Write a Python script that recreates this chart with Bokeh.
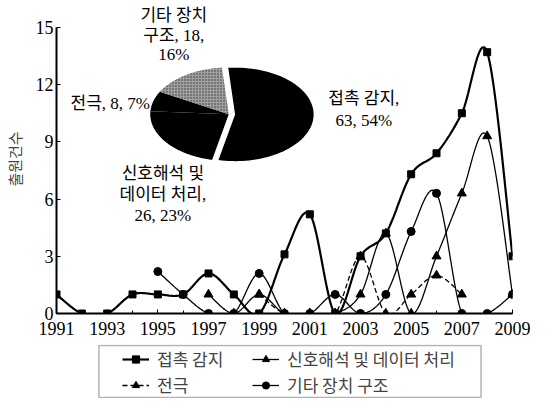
import numpy as np
from bokeh.plotting import figure
from bokeh.layouts import column
from bokeh.models import Range1d, Legend, LegendItem, FixedTicker, Label, BoxAnnotation
from bokeh.embed import file_html
from bokeh.resources import INLINE

# ---------------- data ----------------
years = list(range(1991, 2010))
x_tick_years = list(range(1991, 2010, 2))
y_ticks = [0, 3, 6, 9, 12, 15]

contact_name = "접촉 감지"
contact_years = years
contact = [1, 0, 0, 1, 1, 1, 2.1, 1, 0, 3.1, 5.2, 0, 3, 4.2, 7.3, 8.4, 10.5, 13.7, 3]

signal_name = "신호해석 및 데이터 처리"
signal_years = list(range(1997, 2010))
signal = [1, 0, 1, 0, 0, 0, 1, 4.2, 0, 3, 6.3, 9.3, 1]

electrode_name = "전극"
electrode_years = list(range(1999, 2008))
electrode = [1, 0, 0, 0, 3, 0, 1, 2, 1]

other_name = "기타 장치 구조"
other_years = list(range(1995, 2010))
other = [2.2, 1, 0, 0, 2.1, 0, 0, 1, 0, 1, 4.3, 6.3, 0, 0, 1]

pie_names = [contact_name, signal_name, electrode_name, other_name]
pie_counts = [63, 26, 8, 18]
pie_pcts = [54, 23, 7, 16]

y_axis_title = "출원건수"

# ---------------- helpers ----------------
def smooth(xs, ys, n=20):
    """Excel-like smoothed line (Catmull-Rom as cubic Bezier)."""
    xs = np.asarray(xs, float)
    ys = np.asarray(ys, float)
    px = np.concatenate([[xs[0]], xs, [xs[-1]]])
    py = np.concatenate([[ys[0]], ys, [ys[-1]]])
    ox, oy = [xs[0]], [ys[0]]
    t = np.linspace(0, 1, n + 1)[1:]
    for i in range(1, len(px) - 2):
        x0, x1, x2, x3 = px[i - 1:i + 3]
        y0, y1, y2, y3 = py[i - 1:i + 3]
        c1x, c1y = x1 + (x2 - x0) / 6, y1 + (y2 - y0) / 6
        c2x, c2y = x2 - (x3 - x1) / 6, y2 - (y3 - y1) / 6
        b0 = (1 - t) ** 3
        b1 = 3 * (1 - t) ** 2 * t
        b2 = 3 * (1 - t) * t ** 2
        b3 = t ** 3
        ox.extend(b0 * x1 + b1 * c1x + b2 * c2x + b3 * x2)
        oy.extend(b0 * y1 + b1 * c1y + b2 * c2y + b3 * y2)
    return ox, oy

SERIF = "Liberation Serif, Noto Sans CJK KR"
KR = "Noto Sans CJK KR"

p = figure(width=534, height=344, x_range=Range1d(1991, 2009), y_range=Range1d(0, 16.2),
           output_backend="svg", toolbar_location=None,
           min_border_left=49, min_border_right=22, min_border_top=4, min_border_bottom=31)
p.outline_line_color = None
p.grid.visible = False
p.background_fill_color = "white"
p.border_fill_color = "white"

# axes
p.xaxis.ticker = FixedTicker(ticks=x_tick_years, minor_ticks=years)
p.yaxis.ticker = FixedTicker(ticks=y_ticks, minor_ticks=[])
p.yaxis.bounds = (0, 15)
for ax in (p.xaxis, p.yaxis):
    ax.axis_line_width = 2
    ax.axis_line_color = "black"
    ax.major_tick_in = 4
    ax.major_tick_out = 0
    ax.minor_tick_in = 3
    ax.minor_tick_out = 0
    ax.major_tick_line_color = "black"
    ax.minor_tick_line_color = "black"
    ax.major_label_text_font = SERIF
    ax.major_label_text_font_size = "18px"
    ax.major_label_text_color = "black"
    ax.major_label_standoff = 3
p.xaxis.major_label_standoff = 8
p.yaxis.axis_label = y_axis_title
p.yaxis.axis_label_text_font = KR
p.yaxis.axis_label_text_font_size = "15px"
p.yaxis.axis_label_text_font_style = "normal"
p.yaxis.axis_label_standoff = 8

# ---------------- pie (inset, drawn in the chart's data space) ----------------
pie_cx, pie_cy = 1997.8, 10.45
pie_rx, pie_ry = 3.1, 2.45
pie_start_deg = 95
explode = [0.25, 0, 0, 0]
pie_fill = ["black", "black", "black", "#a0a0a0"]
total = float(sum(pie_counts))
a = np.deg2rad(pie_start_deg)
for i, c in enumerate(pie_counts):
    span = 2 * np.pi * c / total
    a1, a2 = a, a - span
    mid = (a1 + a2) / 2
    ox = pie_cx + explode[i] * np.cos(mid)
    oy = pie_cy + explode[i] * np.sin(mid) * pie_ry / pie_rx
    th = np.linspace(a1, a2, 80)
    xs = [ox] + list(ox + pie_rx * np.cos(th)) + [ox]
    ys = [oy] + list(oy + pie_ry * np.sin(th)) + [oy]
    if i == 3:
        p.patch(xs, ys, fill_color=pie_fill[i], line_color=None,
                hatch_pattern="dot", hatch_color="#333333", hatch_scale=3, hatch_weight=1.0)
    else:
        p.patch(xs, ys, fill_color=pie_fill[i], line_color=None)
    a = a2

def add_label(x, y, text, align="center"):
    p.add_layout(Label(x=x, y=y, text=text, text_align=align, text_baseline="middle",
                       text_font=SERIF, text_font_size="17px", text_color="black"))

add_label(1995.63, 15.63, "기타 장치")
add_label(1995.63, 14.58, f"구조, {pie_counts[3]},")
add_label(1995.63, 13.58, f"{pie_pcts[3]}%")
add_label(1994.69, 11.0, f"{electrode_name}, {pie_counts[2]}, {pie_pcts[2]}%", align="right")
add_label(1995.2, 7.34, "신호해석 및")
add_label(1995.2, 6.24, "데이터 처리,")
add_label(1995.2, 5.14, f"{pie_counts[1]}, {pie_pcts[1]}%")
add_label(2003.13, 11.27, f"{contact_name},")
add_label(2003.13, 10.12, f"{pie_counts[0]}, {pie_pcts[0]}%")

# ---------------- lines ----------------
styles = [
    dict(marker="square", size=7, width=2.2, dash="solid"),
    dict(marker="triangle", size=9, width=1.3, dash="solid"),
    dict(marker="triangle", size=9, width=1.3, dash="5 3"),
    dict(marker="circle", size=8, width=1.3, dash="solid"),
]
series = [(contact_years, contact), (signal_years, signal),
          (electrode_years, electrode), (other_years, other)]
for (xs, ys), st in zip(series, styles):
    sx, sy = smooth(xs, ys)
    p.line(sx, sy, line_color="black", line_width=st["width"], line_dash=st["dash"])
    p.scatter(xs, ys, marker=st["marker"], size=st["size"], color="black")

# ---------------- legend (boxed strip below the chart) ----------------
lg = figure(width=534, height=54, x_range=Range1d(0, 1), y_range=Range1d(-0.02, 1.02),
            output_backend="svg", toolbar_location=None,
            min_border_left=49, min_border_right=22, min_border_top=0, min_border_bottom=0)
lg.axis.visible = False
lg.grid.visible = False
lg.outline_line_color = None
lg.background_fill_color = "white"
lg.border_fill_color = "white"
lg.add_layout(BoxAnnotation(left=0.093, right=0.931, bottom=0, top=1,
                            fill_alpha=0, line_color="black", line_width=1.5))
items = []
for name, (xs, ys), st in zip(pie_names, series, styles):
    # same series data; it lies outside this strip's ranges, only the legend glyph shows
    lr = lg.line(xs, ys, line_color="black", line_width=st["width"], line_dash=st["dash"])
    mr = lg.scatter(xs, ys, marker=st["marker"], size=st["size"], color="black")
    items.append(LegendItem(label=name, renderers=[lr, mr]))

common = dict(orientation="vertical", label_text_font=KR, label_text_font_size="17px",
              glyph_width=27, glyph_height=18, label_height=18,
              label_standoff=8, spacing=1, padding=0, margin=0,
              border_line_alpha=0, background_fill_alpha=0)
lg.add_layout(Legend(items=[items[0], items[2]], location=(66, 1), **common), "center")
lg.add_layout(Legend(items=[items[1], items[3]], location=(196, 1), **common), "center")

open("out.html", "w").write(file_html(column(p, lg), INLINE))
